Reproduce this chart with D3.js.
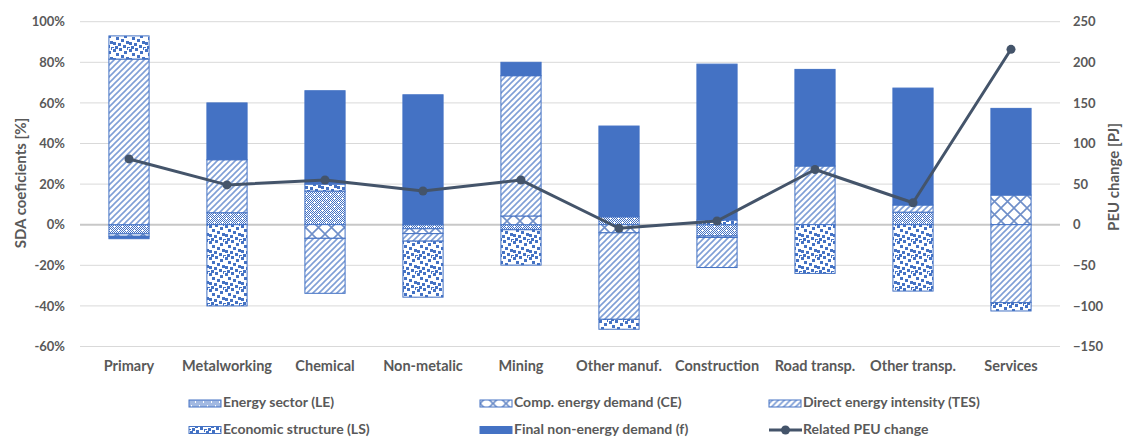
<!DOCTYPE html>
<html><head><meta charset="utf-8">
<script src="https://cdn.jsdelivr.net/npm/d3@7"></script>
<style>
body{margin:0;background:#fff;}
text{font-family:Lato,"Open Sans",sans-serif;fill:#595959;}
</style></head>
<body><svg id="c" width="1124" height="437"></svg>
<script>
const categories = ["Primary","Metalworking","Chemical","Non-metalic","Mining","Other manuf.","Construction","Road transp.","Other transp.","Services"];
const energySector   = [-4.5, 5.9, 16.6, -2.0, -2.5, 3.9, -5.6, 0, 6.2, 0];
const compEnergy     = [-1.2, 0, -6.7, -2.4, 4.3, -4.0, -0.7, 0, 0, 14.6];
const directIntensity= [81.6, 26.1, -27.1, -3.7, 69.1, -42.6, -14.8, 28.9, 3.5, -38.4];
const econStructure  = [11.4, -40, 3.4, -27.6, -17.4, -4.9, 2.3, -24, -32.7, -4.1];
const finalNonEnergy = [-1.2, 28, 46, 64, 6.6, 44.7, 76.8, 47.6, 57.6, 42.7];
const peuChange      = [81, 49, 55, 41.5, 55, -4.4, 4.6, 68, 27, 216];
const leftTicks  = [-60,-40,-20,0,20,40,60,80,100];
const rightTicks = [-150,-100,-50,0,50,100,150,200,250];
const seriesNames = ["Energy sector (LE)","Comp. energy demand (CE)","Direct energy intensity (TES)","Economic structure (LS)","Final non-energy demand (f)"];
const seriesKeys = ["LE","CE","TES","LS","f"];

const blue = "#4472C4";
const svg = d3.select("#c");
const defs = svg.append("defs");

// patterns
const pLE = defs.append("pattern").attr("id","pLE").attr("patternUnits","userSpaceOnUse").attr("width",8).attr("height",8);
pLE.append("rect").attr("width",8).attr("height",8).attr("fill","#fff");
for(let i=0;i<8;i++)for(let j=0;j<8;j++){ if((i+j)%2===0) pLE.append("rect").attr("x",i).attr("y",j).attr("width",1).attr("height",1).attr("fill",blue);}
pLE.append("rect").attr("x",2).attr("y",2).attr("width",1).attr("height",1).attr("fill","#fff");
pLE.append("rect").attr("x",6).attr("y",6).attr("width",1).attr("height",1).attr("fill","#fff");

const pCE = defs.append("pattern").attr("id","pCE").attr("patternUnits","userSpaceOnUse").attr("width",13).attr("height",13);
pCE.append("rect").attr("width",13).attr("height",13).attr("fill","#fff");
pCE.append("path").attr("d","M0,0L13,13M13,0L0,13M-1,12L1,14M12,-1L14,1").attr("stroke","#6f8fc9").attr("stroke-width",1.6);

const pTES = defs.append("pattern").attr("id","pTES").attr("patternUnits","userSpaceOnUse").attr("width",6).attr("height",6);
pTES.append("rect").attr("width",6).attr("height",6).attr("fill","#fff");
pTES.append("path").attr("d","M-1,7L7,-1M-4,4L4,-4M2,10L10,2").attr("stroke","#7f9fd6").attr("stroke-width",1.6);

const pLS = defs.append("pattern").attr("id","pLS").attr("patternUnits","userSpaceOnUse").attr("width",16).attr("height",16);
pLS.append("rect").attr("width",16).attr("height",16).attr("fill","#fff");
[[1,1],[7,0],[12,3],[4,5],[9,7],[14,9],[1,10],[6,11],[11,13],[3,14],[15,15]].forEach(([x,y])=>{
  pLS.append("rect").attr("x",x).attr("y",y).attr("width",3).attr("height",3).attr("fill",blue);
  if(x>13) pLS.append("rect").attr("x",x-16).attr("y",y).attr("width",3).attr("height",3).attr("fill",blue);
  if(y>13) pLS.append("rect").attr("x",x).attr("y",y-16).attr("width",3).attr("height",3).attr("fill",blue);
});

const fills = {LE:"url(#pLE)",CE:"url(#pCE)",TES:"url(#pTES)",LS:"url(#pLS)",f:blue};

const L=80,R=1060,T=21.7,B=346.5;
const x = d3.scaleBand().domain(categories).range([L,R]).paddingInner(0.59).paddingOuter(0.295);
const y = d3.scaleLinear().domain([-60,100]).range([B,T]);
const y2 = d3.scaleLinear().domain([-150,250]).range([B,T]);

// gridlines
svg.append("g").selectAll("line").data(leftTicks).join("line")
  .attr("x1",L).attr("x2",R).attr("y1",d=>y(d)).attr("y2",d=>y(d))
  .attr("stroke",d=>d===0?"#c8c8c8":"#d9d9d9").attr("stroke-width",d=>d===0?2:1);

// axes
const gl = svg.append("g").attr("transform",`translate(${L-15},0)`)
  .call(d3.axisLeft(y).tickValues(leftTicks).tickFormat(d=>d+"%").tickSize(0));
gl.select(".domain").remove();
gl.selectAll("text").attr("x",0).style("font-size","13px").style("font-weight","bold").attr("fill","#595959");

const gr = svg.append("g").attr("transform",`translate(${R+13},0)`)
  .call(d3.axisRight(y2).tickValues(rightTicks).tickSize(0));
gr.select(".domain").remove();
gr.selectAll("text").attr("x",0).style("font-size","13px").style("font-weight","bold").attr("fill","#595959");

const gx = svg.append("g").attr("transform",`translate(0,${B+20})`)
  .call(d3.axisBottom(x).tickSize(0));
gx.select(".domain").remove();
gx.selectAll("text").attr("dy","0.32em").attr("y",0).style("font-size","14.5px").style("font-weight","bold").attr("fill","#595959");

svg.selectAll(".tick text").style("font-family","Lato, 'Open Sans', sans-serif");

// axis titles
svg.append("text").attr("transform",`translate(22,183) rotate(-90)`).attr("text-anchor","middle")
  .attr("dominant-baseline","middle").style("font-size","15px").style("font-weight","bold").text("SDA coeficients [%]");
svg.append("text").attr("transform",`translate(1115,177) rotate(-90)`).attr("text-anchor","middle")
  .attr("dominant-baseline","middle").style("font-size","15px").style("font-weight","bold").text("PEU change [PJ]");

// stacked bars
const rows = categories.map((c,i)=>({cat:c,LE:energySector[i],CE:compEnergy[i],TES:directIntensity[i],LS:econStructure[i],f:finalNonEnergy[i]}));
const stacked = d3.stack().keys(seriesKeys).offset(d3.stackOffsetDiverging)(rows);
svg.append("g").selectAll("g").data(stacked).join("g")
  .attr("fill",d=>fills[d.key])
  .selectAll("rect").data(d=>d.filter(s=>s[1]!==s[0])).join("rect")
  .attr("x",d=>x(d.data.cat)).attr("width",x.bandwidth())
  .attr("y",d=>y(Math.max(d[0],d[1]))).attr("height",d=>Math.abs(y(d[0])-y(d[1])))
  .attr("stroke",blue).attr("stroke-width",1);

// line
const line = d3.line().x((d,i)=>x(categories[i])+x.bandwidth()/2).y(d=>y2(d));
svg.append("path").datum(peuChange).attr("d",line).attr("fill","none").attr("stroke","#44546A").attr("stroke-width",3).attr("stroke-linejoin","round");
svg.append("g").selectAll("circle").data(peuChange).join("circle")
  .attr("cx",(d,i)=>x(categories[i])+x.bandwidth()/2).attr("cy",d=>y2(d)).attr("r",4.5).attr("fill","#44546A");

// legend
const legendItems = [
  {name:seriesNames[0],key:"LE",col:0,row:0},
  {name:seriesNames[1],key:"CE",col:1,row:0},
  {name:seriesNames[2],key:"TES",col:2,row:0},
  {name:seriesNames[3],key:"LS",col:0,row:1},
  {name:seriesNames[4],key:"f",col:1,row:1},
  {name:"Related PEU change",key:"line",col:2,row:1}
];
const colX=[189,480,769], rowY=[403.5,430];
const lg = svg.append("g").selectAll("g").data(legendItems).join("g")
  .attr("transform",d=>`translate(${colX[d.col]},${rowY[d.row]})`);
lg.filter(d=>d.key!=="line").append("rect").attr("x",0).attr("y",-3.5).attr("width",32).attr("height",7)
  .attr("fill",d=>fills[d.key]).attr("stroke",blue).attr("stroke-width",1);
const ll = lg.filter(d=>d.key==="line");
ll.append("line").attr("x1",0).attr("x2",33).attr("y1",0).attr("y2",0).attr("stroke","#44546A").attr("stroke-width",3);
ll.append("circle").attr("cx",16.5).attr("cy",0).attr("r",4.5).attr("fill","#44546A");
lg.append("text").attr("x",34).attr("y",0).attr("dominant-baseline","middle").style("font-size","14px").style("font-weight","bold").text(d=>d.name);
</script></body></html>
